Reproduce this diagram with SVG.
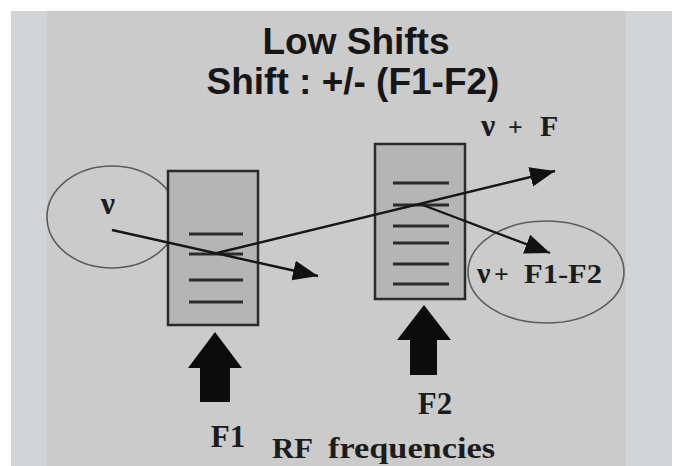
<svg xmlns="http://www.w3.org/2000/svg" width="675" height="466" viewBox="0 0 675 466">
  <defs>
    <style>
      .title { font-family: "Liberation Sans", Arial, sans-serif; font-weight: bold; font-size: 37px; fill: #161616; text-anchor: middle; }
      .serif { font-family: "Liberation Serif", "Times New Roman", serif; font-weight: bold; fill: #1c1c1c; }
      .cell { fill: #b5b5b5; stroke: #2b2b2b; stroke-width: 2.5; }
      .level { stroke: #2b2b2b; stroke-width: 3; }
      .ring { fill: none; stroke: #5c5c5c; stroke-width: 1.6; }
      .beam { stroke: #161616; stroke-width: 2.4; fill: none; marker-end: url(#head); }
      .pump { fill: #0c0c0c; }
    </style>
    <marker id="head" markerUnits="userSpaceOnUse" markerWidth="26" markerHeight="22" refX="25" refY="11" orient="auto">
      <path d="M0,1 L25,11 L0,21 Z" fill="#111"/>
    </marker>
  </defs>

  <!-- backdrop -->
  <rect width="675" height="466" fill="#ffffff"/>
  <rect x="11" y="11" width="661" height="455" fill="#d3d4d6"/>
  <rect x="47" y="11" width="579" height="455" fill="#cbcbcb"/>

  <g id="title">
    <text class="title" x="356" y="54">Low Shifts</text>
    <text class="title" x="353" y="94">Shift : +/- (F1-F2)</text>
  </g>

  <g id="input">
    <ellipse class="ring" cx="112" cy="217" rx="65" ry="51"/>
    <text class="serif" x="108" y="214" font-size="32" text-anchor="middle">ν</text>
  </g>

  <g id="cell-f1">
    <rect class="cell" x="168" y="171" width="90" height="154"/>
    <line class="level" x1="189" y1="234" x2="243" y2="234"/>
    <line class="level" x1="189" y1="254" x2="243" y2="254"/>
    <line class="level" x1="189" y1="280" x2="243" y2="280"/>
    <line class="level" x1="189" y1="302" x2="243" y2="302"/>
  </g>

  <g id="cell-f2">
    <rect class="cell" x="375" y="144" width="90" height="155"/>
    <line class="level" x1="393" y1="183" x2="449" y2="183"/>
    <line class="level" x1="393" y1="205" x2="449" y2="205"/>
    <line class="level" x1="393" y1="226" x2="449" y2="226"/>
    <line class="level" x1="393" y1="243" x2="449" y2="243"/>
    <line class="level" x1="393" y1="264" x2="449" y2="264"/>
    <line class="level" x1="393" y1="284" x2="449" y2="284"/>
  </g>

  <g id="output-sum">
    <text class="serif" y="136"><tspan x="481" font-size="32">ν</tspan><tspan x="508" font-size="26">+</tspan><tspan x="540" font-size="30">F</tspan></text>
  </g>

  <g id="output-diff">
    <ellipse class="ring" cx="546" cy="272" rx="78" ry="51"/>
    <text class="serif" y="283"><tspan x="477" font-size="30">ν</tspan><tspan x="494" font-size="26">+</tspan></text>
    <text class="serif" x="524" y="283" font-size="27" textLength="78" lengthAdjust="spacingAndGlyphs">F1-F2</text>
  </g>

  <g id="pump-f1">
    <path class="pump" d="M215,332 L242,368 L230,368 L230,402 L200,402 L200,368 L188,368 Z"/>
    <text class="serif" x="228" y="447" font-size="31" text-anchor="middle">F1</text>
  </g>

  <g id="pump-f2">
    <path class="pump" d="M424,305 L451,340 L437,340 L437,375 L410,375 L410,340 L397,340 Z"/>
    <text class="serif" x="435" y="414" font-size="31" text-anchor="middle">F2</text>
  </g>

  <g id="caption">
    <text class="serif" y="458" font-size="30"><tspan x="272" textLength="41" lengthAdjust="spacingAndGlyphs">RF</tspan><tspan x="328" textLength="167" lengthAdjust="spacingAndGlyphs">frequencies</tspan></text>
  </g>

  <g id="connectors">
    <line class="beam" x1="112" y1="230" x2="318" y2="276"/>
    <line class="beam" x1="217" y1="253" x2="555" y2="171"/>
    <line class="beam" x1="420" y1="204" x2="550" y2="253"/>
  </g>
</svg>
